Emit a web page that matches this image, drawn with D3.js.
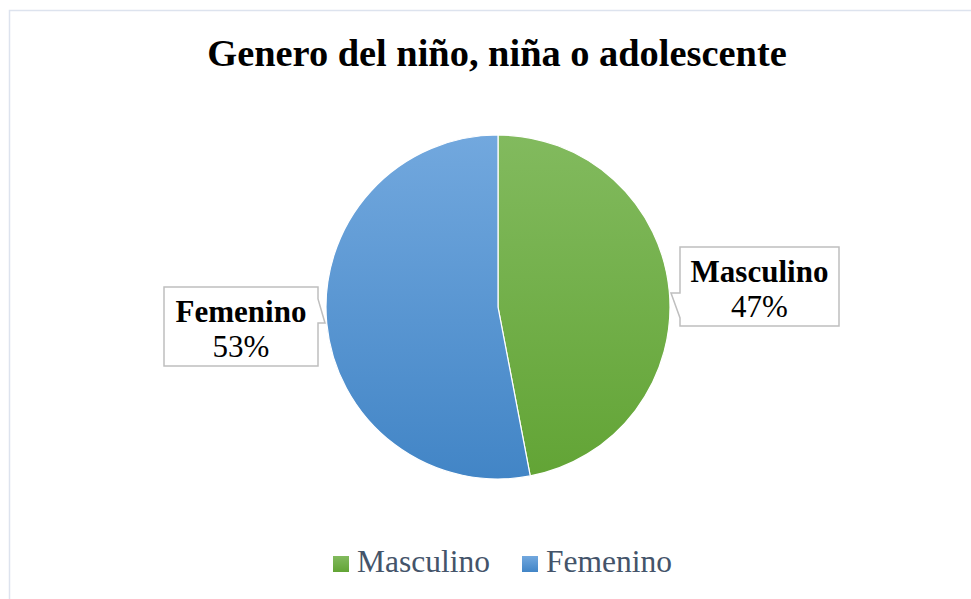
<!DOCTYPE html>
<html>
<head>
<meta charset="utf-8">
<script src="https://cdn.jsdelivr.net/npm/d3@7/dist/d3.min.js"></script>
<style>
  html, body { margin: 0; padding: 0; background: #fff; }
  svg { display: block; }
</style>
</head>
<body>
<svg id="chart" width="971" height="599"></svg>
<script>
const title = "Genero del niño, niña o adolescente";
const categories = ["Masculino", "Femenino"];
const values = [47, 53];
const colorsTop = ["#82ba5e", "#72a8de"];
const colorsBottom = ["#62a435", "#4285c6"];

const W = 971, H = 599;
const svg = d3.select("#chart");
const defs = svg.append("defs");

// chart frame
svg.append("rect").attr("x", 9.5).attr("y", 10.5).attr("width", W + 10).attr("height", H + 10)
  .attr("fill", "#fff").attr("stroke", "#dde3ee").attr("stroke-width", 1.5);

// title
svg.append("text").attr("x", 497).attr("y", 66).attr("text-anchor", "middle")
  .attr("font-family", "'Liberation Serif', 'Times New Roman', serif")
  .attr("font-weight", "bold").attr("font-size", 38.4).attr("fill", "#000")
  .text(title);

const cx = 498, cy = 307, R = 172;

categories.forEach((c, i) => {
  const g = defs.append("linearGradient").attr("id", "grad" + i)
    .attr("gradientUnits", "userSpaceOnUse")
    .attr("x1", 0).attr("y1", -R).attr("x2", 0).attr("y2", R);
  g.append("stop").attr("offset", "0%").attr("stop-color", colorsTop[i]);
  g.append("stop").attr("offset", "100%").attr("stop-color", colorsBottom[i]);
});

const pie = d3.pie().sort(null).value(d => d.v);
const arcs = pie(categories.map((c, i) => ({ c, v: values[i], i })));
const arc = d3.arc().innerRadius(0).outerRadius(R);

const pg = svg.append("g").attr("transform", `translate(${cx},${cy})`);
pg.selectAll("path").data(arcs).join("path")
  .attr("d", arc)
  .attr("fill", d => `url(#grad${d.data.i})`)
  .attr("stroke", "#fff").attr("stroke-width", 1.2);

// callout labels
const total = d3.sum(values);
const fmt = v => Math.round(v / total * 100) + "%";
const boxW = [159, 154], boxH = 79;
const serif = "'Liberation Serif', 'Times New Roman', serif";

arcs.forEach((d, k) => {
  const mid = (d.startAngle + d.endAngle) / 2;
  const right = Math.sin(mid) > 0;
  const bw = boxW[k];
  let x0, y0, path;
  if (right) {
    x0 = cx + R + 10; y0 = cy - 60;
    const tipX = cx + R + 1, tipY = cy - 14;
    path = `M${x0},${y0} H${x0 + bw} V${y0 + boxH} H${x0} V${y0 + 71} L${tipX},${tipY} H${x0} Z`;
  } else {
    x0 = cx - R - 8 - bw; y0 = cy - 20;
    const tipX = cx - R - 1, tipY = cy + 16;
    path = `M${x0},${y0} H${x0 + bw} V${y0 + 12} L${tipX},${tipY} H${x0 + bw} V${y0 + boxH} H${x0} Z`;
  }
  svg.append("path").attr("d", path).attr("fill", "#fff")
    .attr("stroke", "#bfbfbf").attr("stroke-width", 1.5);
  const tx = x0 + bw / 2;
  svg.append("text").attr("x", tx).attr("y", y0 + 35).attr("text-anchor", "middle")
    .attr("font-family", serif).attr("font-weight", "bold").attr("font-size", 31)
    .attr("fill", "#000").text(d.data.c);
  svg.append("text").attr("x", tx).attr("y", y0 + 70).attr("text-anchor", "middle")
    .attr("font-family", serif).attr("font-size", 31)
    .attr("fill", "#000").text(fmt(d.data.v));
});

// legend
const legendX = [333, 522];
categories.forEach((c, i) => {
  const lg = defs.append("linearGradient").attr("id", "lgrad" + i)
    .attr("x1", 0).attr("y1", 0).attr("x2", 0).attr("y2", 1);
  lg.append("stop").attr("offset", "0%").attr("stop-color", colorsTop[i]);
  lg.append("stop").attr("offset", "100%").attr("stop-color", colorsBottom[i]);
  svg.append("rect").attr("x", legendX[i]).attr("y", 556).attr("width", 16).attr("height", 16)
    .attr("fill", `url(#lgrad${i})`);
  svg.append("text").attr("x", legendX[i] + 24).attr("y", 572)
    .attr("font-family", serif).attr("font-size", 31.5).attr("fill", "#44546a").text(c);
});
</script>
</body>
</html>
